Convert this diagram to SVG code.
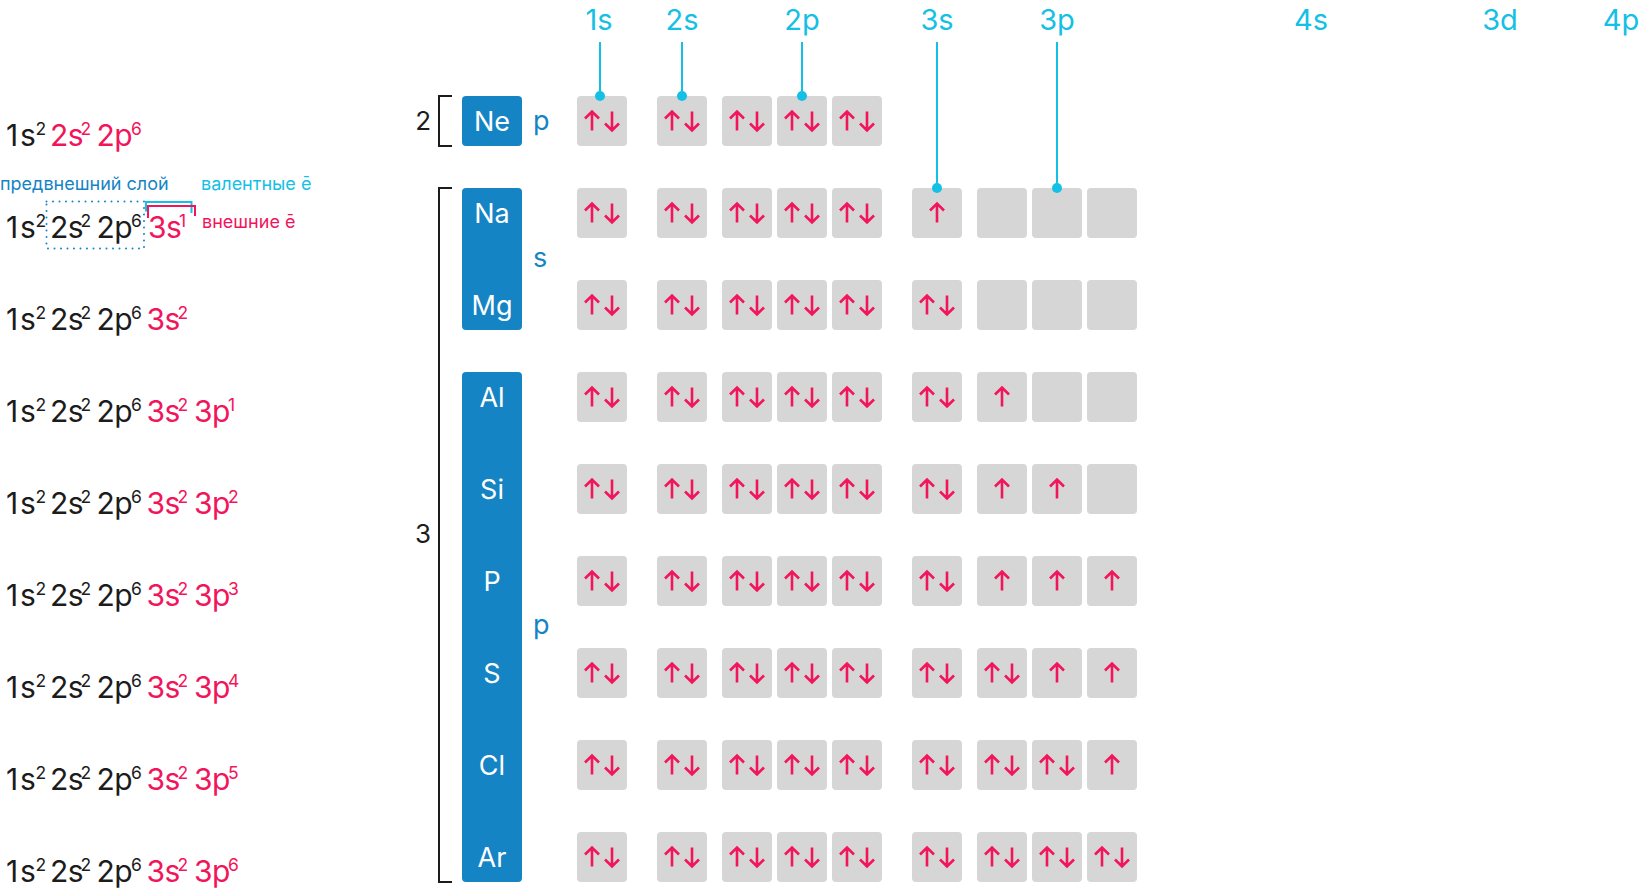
<svg xmlns="http://www.w3.org/2000/svg" xmlns:xlink="http://www.w3.org/1999/xlink" width="1642" height="894" viewBox="0 0 1642 894">
<style>
text{font-family:Inter,"Liberation Sans","DejaVu Sans",sans-serif}
.cfg{font-size:30px;letter-spacing:-0.6px}
.sup{font-size:17.5px;letter-spacing:0}
.k{fill:#1c1c1c}
.r{fill:#f2155b}
.lbl{font-size:29px;fill:#14c0e6;text-anchor:middle}
.el{font-size:27px;fill:#ffffff;text-anchor:middle}
.blk{fill:#1584c4}
.sub{font-size:27px;fill:#1584c4}
.per{font-size:26px;fill:#1c1c1c;text-anchor:end}
.cell{fill:#d6d6d6}
.ar{fill:none;stroke:#f2155b;stroke-width:2.6}
.lead{stroke:#14c0e6;stroke-width:2}
.dot{fill:#14c0e6}
.brk{fill:none;stroke:#1c1c1c;stroke-width:2}
.ann{font-size:18px}
</style>
<defs>
<path id="up" class="ar" d="M0,9.5 V-9.5 M-7,-2.5 L0,-9.5 L7,-2.5"/>
<path id="dn" class="ar" d="M0,-9.5 V9.5 M-7,2.5 L0,9.5 L7,2.5"/>
<g id="pair"><use xlink:href="#up" x="-10"/><use xlink:href="#dn" x="10"/></g>
</defs>

<!-- column labels -->
<g id="labels">
<text class="lbl" x="599" y="30">1s</text>
<text class="lbl" x="682" y="30">2s</text>
<text class="lbl" x="802" y="30">2p</text>
<text class="lbl" x="937" y="30">3s</text>
<text class="lbl" x="1057" y="30">3p</text>
<text class="lbl" x="1311" y="30">4s</text>
<text class="lbl" x="1500" y="30">3d</text>
<text class="lbl" x="1621" y="30">4p</text>
</g>

<!-- periods -->
<g id="period2">
<text class="per" x="431" y="130">2</text>
<path class="brk" d="M452,96 H439 V146 H452"/>
</g>
<g id="period3">
<text class="per" x="431" y="543">3</text>
<path class="brk" d="M452,188 H439 V882 H452"/>
</g>

<!-- element blocks -->
<g id="ne">
<rect class="blk" x="462" y="96" width="60" height="50" rx="4"/>
<text class="el" x="492" y="131">Ne</text>
<text class="sub" x="533" y="130">p</text>
</g>
<g id="s-block">
<rect class="blk" x="462" y="188" width="60" height="142" rx="4"/>
<text class="sub" x="533" y="267">s</text>
</g>
<g id="na"><text class="el" x="492" y="223">Na</text></g>
<g id="mg"><text class="el" x="492" y="315">Mg</text></g>
<g id="p-block">
<rect class="blk" x="462" y="372" width="60" height="510" rx="4"/>
<text class="sub" x="533" y="634">p</text>
</g>
<g id="al"><text class="el" x="492" y="407">Al</text></g>
<g id="si"><text class="el" x="492" y="499">Si</text></g>
<g id="p"><text class="el" x="492" y="591">P</text></g>
<g id="s"><text class="el" x="492" y="683">S</text></g>
<g id="cl"><text class="el" x="492" y="775">Cl</text></g>
<g id="ar"><text class="el" x="492" y="867">Ar</text></g>

<!-- orbital rows -->
<g id="ne-orbitals" transform="translate(0,96)">
<rect class="cell" x="577" y="0" width="50" height="50" rx="4"/>
<rect class="cell" x="657" y="0" width="50" height="50" rx="4"/>
<rect class="cell" x="722" y="0" width="50" height="50" rx="4"/>
<rect class="cell" x="777" y="0" width="50" height="50" rx="4"/>
<rect class="cell" x="832" y="0" width="50" height="50" rx="4"/>
<use xlink:href="#pair" x="602" y="25"/><use xlink:href="#pair" x="682" y="25"/><use xlink:href="#pair" x="747" y="25"/><use xlink:href="#pair" x="802" y="25"/><use xlink:href="#pair" x="857" y="25"/>
</g>

<g id="na-orbitals" transform="translate(0,188)">
<rect class="cell" x="577" y="0" width="50" height="50" rx="4"/><rect class="cell" x="657" y="0" width="50" height="50" rx="4"/><rect class="cell" x="722" y="0" width="50" height="50" rx="4"/><rect class="cell" x="777" y="0" width="50" height="50" rx="4"/><rect class="cell" x="832" y="0" width="50" height="50" rx="4"/><rect class="cell" x="912" y="0" width="50" height="50" rx="4"/><rect class="cell" x="977" y="0" width="50" height="50" rx="4"/><rect class="cell" x="1032" y="0" width="50" height="50" rx="4"/><rect class="cell" x="1087" y="0" width="50" height="50" rx="4"/>
<use xlink:href="#pair" x="602" y="25"/><use xlink:href="#pair" x="682" y="25"/><use xlink:href="#pair" x="747" y="25"/><use xlink:href="#pair" x="802" y="25"/><use xlink:href="#pair" x="857" y="25"/>
<use xlink:href="#up" x="937" y="25"/>
</g>

<g id="mg-orbitals" transform="translate(0,280)">
<rect class="cell" x="577" y="0" width="50" height="50" rx="4"/><rect class="cell" x="657" y="0" width="50" height="50" rx="4"/><rect class="cell" x="722" y="0" width="50" height="50" rx="4"/><rect class="cell" x="777" y="0" width="50" height="50" rx="4"/><rect class="cell" x="832" y="0" width="50" height="50" rx="4"/><rect class="cell" x="912" y="0" width="50" height="50" rx="4"/><rect class="cell" x="977" y="0" width="50" height="50" rx="4"/><rect class="cell" x="1032" y="0" width="50" height="50" rx="4"/><rect class="cell" x="1087" y="0" width="50" height="50" rx="4"/>
<use xlink:href="#pair" x="602" y="25"/><use xlink:href="#pair" x="682" y="25"/><use xlink:href="#pair" x="747" y="25"/><use xlink:href="#pair" x="802" y="25"/><use xlink:href="#pair" x="857" y="25"/>
<use xlink:href="#pair" x="937" y="25"/>
</g>

<g id="al-orbitals" transform="translate(0,372)">
<rect class="cell" x="577" y="0" width="50" height="50" rx="4"/><rect class="cell" x="657" y="0" width="50" height="50" rx="4"/><rect class="cell" x="722" y="0" width="50" height="50" rx="4"/><rect class="cell" x="777" y="0" width="50" height="50" rx="4"/><rect class="cell" x="832" y="0" width="50" height="50" rx="4"/><rect class="cell" x="912" y="0" width="50" height="50" rx="4"/><rect class="cell" x="977" y="0" width="50" height="50" rx="4"/><rect class="cell" x="1032" y="0" width="50" height="50" rx="4"/><rect class="cell" x="1087" y="0" width="50" height="50" rx="4"/>
<use xlink:href="#pair" x="602" y="25"/><use xlink:href="#pair" x="682" y="25"/><use xlink:href="#pair" x="747" y="25"/><use xlink:href="#pair" x="802" y="25"/><use xlink:href="#pair" x="857" y="25"/>
<use xlink:href="#pair" x="937" y="25"/>
<use xlink:href="#up" x="1002" y="25"/>
</g>

<g id="si-orbitals" transform="translate(0,464)">
<rect class="cell" x="577" y="0" width="50" height="50" rx="4"/><rect class="cell" x="657" y="0" width="50" height="50" rx="4"/><rect class="cell" x="722" y="0" width="50" height="50" rx="4"/><rect class="cell" x="777" y="0" width="50" height="50" rx="4"/><rect class="cell" x="832" y="0" width="50" height="50" rx="4"/><rect class="cell" x="912" y="0" width="50" height="50" rx="4"/><rect class="cell" x="977" y="0" width="50" height="50" rx="4"/><rect class="cell" x="1032" y="0" width="50" height="50" rx="4"/><rect class="cell" x="1087" y="0" width="50" height="50" rx="4"/>
<use xlink:href="#pair" x="602" y="25"/><use xlink:href="#pair" x="682" y="25"/><use xlink:href="#pair" x="747" y="25"/><use xlink:href="#pair" x="802" y="25"/><use xlink:href="#pair" x="857" y="25"/>
<use xlink:href="#pair" x="937" y="25"/>
<use xlink:href="#up" x="1002" y="25"/><use xlink:href="#up" x="1057" y="25"/>
</g>

<g id="p-orbitals" transform="translate(0,556)">
<rect class="cell" x="577" y="0" width="50" height="50" rx="4"/><rect class="cell" x="657" y="0" width="50" height="50" rx="4"/><rect class="cell" x="722" y="0" width="50" height="50" rx="4"/><rect class="cell" x="777" y="0" width="50" height="50" rx="4"/><rect class="cell" x="832" y="0" width="50" height="50" rx="4"/><rect class="cell" x="912" y="0" width="50" height="50" rx="4"/><rect class="cell" x="977" y="0" width="50" height="50" rx="4"/><rect class="cell" x="1032" y="0" width="50" height="50" rx="4"/><rect class="cell" x="1087" y="0" width="50" height="50" rx="4"/>
<use xlink:href="#pair" x="602" y="25"/><use xlink:href="#pair" x="682" y="25"/><use xlink:href="#pair" x="747" y="25"/><use xlink:href="#pair" x="802" y="25"/><use xlink:href="#pair" x="857" y="25"/>
<use xlink:href="#pair" x="937" y="25"/>
<use xlink:href="#up" x="1002" y="25"/><use xlink:href="#up" x="1057" y="25"/><use xlink:href="#up" x="1112" y="25"/>
</g>

<g id="s-orbitals" transform="translate(0,648)">
<rect class="cell" x="577" y="0" width="50" height="50" rx="4"/><rect class="cell" x="657" y="0" width="50" height="50" rx="4"/><rect class="cell" x="722" y="0" width="50" height="50" rx="4"/><rect class="cell" x="777" y="0" width="50" height="50" rx="4"/><rect class="cell" x="832" y="0" width="50" height="50" rx="4"/><rect class="cell" x="912" y="0" width="50" height="50" rx="4"/><rect class="cell" x="977" y="0" width="50" height="50" rx="4"/><rect class="cell" x="1032" y="0" width="50" height="50" rx="4"/><rect class="cell" x="1087" y="0" width="50" height="50" rx="4"/>
<use xlink:href="#pair" x="602" y="25"/><use xlink:href="#pair" x="682" y="25"/><use xlink:href="#pair" x="747" y="25"/><use xlink:href="#pair" x="802" y="25"/><use xlink:href="#pair" x="857" y="25"/>
<use xlink:href="#pair" x="937" y="25"/>
<use xlink:href="#pair" x="1002" y="25"/><use xlink:href="#up" x="1057" y="25"/><use xlink:href="#up" x="1112" y="25"/>
</g>

<g id="cl-orbitals" transform="translate(0,740)">
<rect class="cell" x="577" y="0" width="50" height="50" rx="4"/><rect class="cell" x="657" y="0" width="50" height="50" rx="4"/><rect class="cell" x="722" y="0" width="50" height="50" rx="4"/><rect class="cell" x="777" y="0" width="50" height="50" rx="4"/><rect class="cell" x="832" y="0" width="50" height="50" rx="4"/><rect class="cell" x="912" y="0" width="50" height="50" rx="4"/><rect class="cell" x="977" y="0" width="50" height="50" rx="4"/><rect class="cell" x="1032" y="0" width="50" height="50" rx="4"/><rect class="cell" x="1087" y="0" width="50" height="50" rx="4"/>
<use xlink:href="#pair" x="602" y="25"/><use xlink:href="#pair" x="682" y="25"/><use xlink:href="#pair" x="747" y="25"/><use xlink:href="#pair" x="802" y="25"/><use xlink:href="#pair" x="857" y="25"/>
<use xlink:href="#pair" x="937" y="25"/>
<use xlink:href="#pair" x="1002" y="25"/><use xlink:href="#pair" x="1057" y="25"/><use xlink:href="#up" x="1112" y="25"/>
</g>

<g id="ar-orbitals" transform="translate(0,832)">
<rect class="cell" x="577" y="0" width="50" height="50" rx="4"/><rect class="cell" x="657" y="0" width="50" height="50" rx="4"/><rect class="cell" x="722" y="0" width="50" height="50" rx="4"/><rect class="cell" x="777" y="0" width="50" height="50" rx="4"/><rect class="cell" x="832" y="0" width="50" height="50" rx="4"/><rect class="cell" x="912" y="0" width="50" height="50" rx="4"/><rect class="cell" x="977" y="0" width="50" height="50" rx="4"/><rect class="cell" x="1032" y="0" width="50" height="50" rx="4"/><rect class="cell" x="1087" y="0" width="50" height="50" rx="4"/>
<use xlink:href="#pair" x="602" y="25"/><use xlink:href="#pair" x="682" y="25"/><use xlink:href="#pair" x="747" y="25"/><use xlink:href="#pair" x="802" y="25"/><use xlink:href="#pair" x="857" y="25"/>
<use xlink:href="#pair" x="937" y="25"/>
<use xlink:href="#pair" x="1002" y="25"/><use xlink:href="#pair" x="1057" y="25"/><use xlink:href="#pair" x="1112" y="25"/>
</g>

<!-- connectors (drawn over the cells) -->
<g id="connectors">
<line class="lead" x1="600" y1="42" x2="600" y2="96"/><circle class="dot" cx="600" cy="96" r="5"/>
<line class="lead" x1="682" y1="42" x2="682" y2="96"/><circle class="dot" cx="682" cy="96" r="5"/>
<line class="lead" x1="802" y1="42" x2="802" y2="96"/><circle class="dot" cx="802" cy="96" r="5"/>
<line class="lead" x1="937" y1="42" x2="937" y2="188"/><circle class="dot" cx="937" cy="188" r="5"/>
<line class="lead" x1="1057" y1="42" x2="1057" y2="188"/><circle class="dot" cx="1057" cy="188" r="5"/>
</g>

<!-- electron configurations -->
<g id="configs">
<text class="cfg"><tspan class="k" x="6" y="146">1</tspan><tspan class="k" x="20" y="146">s</tspan><tspan class="k sup" x="35.5" y="135">2</tspan><tspan class="r" x="50" y="146">2s</tspan><tspan class="r sup" x="80.5" y="135">2</tspan><tspan class="r" x="96.5" y="146">2p</tspan><tspan class="r sup" x="131" y="135">6</tspan></text>

<text class="cfg"><tspan class="k" x="6" y="238">1</tspan><tspan class="k" x="20" y="238">s</tspan><tspan class="k sup" x="35.5" y="227">2</tspan><tspan class="k" x="50" y="238">2s</tspan><tspan class="k sup" x="80.5" y="227">2</tspan><tspan class="k" x="96.5" y="238">2p</tspan><tspan class="k sup" x="131" y="227">6</tspan><tspan class="r" x="148" y="238">3s</tspan><tspan class="r sup" x="179" y="227">1</tspan></text>

<text class="cfg"><tspan class="k" x="6" y="330">1</tspan><tspan class="k" x="20" y="330">s</tspan><tspan class="k sup" x="35.5" y="319">2</tspan><tspan class="k" x="50" y="330">2s</tspan><tspan class="k sup" x="80.5" y="319">2</tspan><tspan class="k" x="96.5" y="330">2p</tspan><tspan class="k sup" x="131" y="319">6</tspan><tspan class="r" x="146.5" y="330">3s</tspan><tspan class="r sup" x="177.5" y="319">2</tspan></text>

<text class="cfg"><tspan class="k" x="6" y="422">1</tspan><tspan class="k" x="20" y="422">s</tspan><tspan class="k sup" x="35.5" y="411">2</tspan><tspan class="k" x="50" y="422">2s</tspan><tspan class="k sup" x="80.5" y="411">2</tspan><tspan class="k" x="96.5" y="422">2p</tspan><tspan class="k sup" x="131" y="411">6</tspan><tspan class="r" x="146.5" y="422">3s</tspan><tspan class="r sup" x="177.5" y="411">2</tspan><tspan class="r" x="194" y="422">3p</tspan><tspan class="r sup" x="228" y="411">1</tspan></text>

<text class="cfg"><tspan class="k" x="6" y="514">1</tspan><tspan class="k" x="20" y="514">s</tspan><tspan class="k sup" x="35.5" y="503">2</tspan><tspan class="k" x="50" y="514">2s</tspan><tspan class="k sup" x="80.5" y="503">2</tspan><tspan class="k" x="96.5" y="514">2p</tspan><tspan class="k sup" x="131" y="503">6</tspan><tspan class="r" x="146.5" y="514">3s</tspan><tspan class="r sup" x="177.5" y="503">2</tspan><tspan class="r" x="194" y="514">3p</tspan><tspan class="r sup" x="228" y="503">2</tspan></text>

<text class="cfg"><tspan class="k" x="6" y="606">1</tspan><tspan class="k" x="20" y="606">s</tspan><tspan class="k sup" x="35.5" y="595">2</tspan><tspan class="k" x="50" y="606">2s</tspan><tspan class="k sup" x="80.5" y="595">2</tspan><tspan class="k" x="96.5" y="606">2p</tspan><tspan class="k sup" x="131" y="595">6</tspan><tspan class="r" x="146.5" y="606">3s</tspan><tspan class="r sup" x="177.5" y="595">2</tspan><tspan class="r" x="194" y="606">3p</tspan><tspan class="r sup" x="228" y="595">3</tspan></text>

<text class="cfg"><tspan class="k" x="6" y="698">1</tspan><tspan class="k" x="20" y="698">s</tspan><tspan class="k sup" x="35.5" y="687">2</tspan><tspan class="k" x="50" y="698">2s</tspan><tspan class="k sup" x="80.5" y="687">2</tspan><tspan class="k" x="96.5" y="698">2p</tspan><tspan class="k sup" x="131" y="687">6</tspan><tspan class="r" x="146.5" y="698">3s</tspan><tspan class="r sup" x="177.5" y="687">2</tspan><tspan class="r" x="194" y="698">3p</tspan><tspan class="r sup" x="228" y="687">4</tspan></text>

<text class="cfg"><tspan class="k" x="6" y="790">1</tspan><tspan class="k" x="20" y="790">s</tspan><tspan class="k sup" x="35.5" y="779">2</tspan><tspan class="k" x="50" y="790">2s</tspan><tspan class="k sup" x="80.5" y="779">2</tspan><tspan class="k" x="96.5" y="790">2p</tspan><tspan class="k sup" x="131" y="779">6</tspan><tspan class="r" x="146.5" y="790">3s</tspan><tspan class="r sup" x="177.5" y="779">2</tspan><tspan class="r" x="194" y="790">3p</tspan><tspan class="r sup" x="228" y="779">5</tspan></text>

<text class="cfg"><tspan class="k" x="6" y="882">1</tspan><tspan class="k" x="20" y="882">s</tspan><tspan class="k sup" x="35.5" y="871">2</tspan><tspan class="k" x="50" y="882">2s</tspan><tspan class="k sup" x="80.5" y="871">2</tspan><tspan class="k" x="96.5" y="882">2p</tspan><tspan class="k sup" x="131" y="871">6</tspan><tspan class="r" x="146.5" y="882">3s</tspan><tspan class="r sup" x="177.5" y="871">2</tspan><tspan class="r" x="194" y="882">3p</tspan><tspan class="r sup" x="228" y="871">6</tspan></text>
</g>

<!-- annotations -->
<g id="annotations">
<text class="ann" x="0" y="190" fill="#1584c4">предвнешний слой</text>
<text class="ann" x="201" y="190" fill="#14c0e6">валентные ē</text>
<text class="ann" x="202" y="228" fill="#f2155b">внешние ē</text>
<rect x="46.5" y="201.5" width="97.5" height="47" fill="none" stroke="#1584c4" stroke-width="2" stroke-linecap="round" stroke-dasharray="0 6.5"/>
<path d="M146,211.5 V202 H191.5 V213" fill="none" stroke="#14c0e6" stroke-width="2"/>
<path d="M148,218 V206 H195 V216" fill="none" stroke="#f2155b" stroke-width="2"/>
</g>
</svg>
